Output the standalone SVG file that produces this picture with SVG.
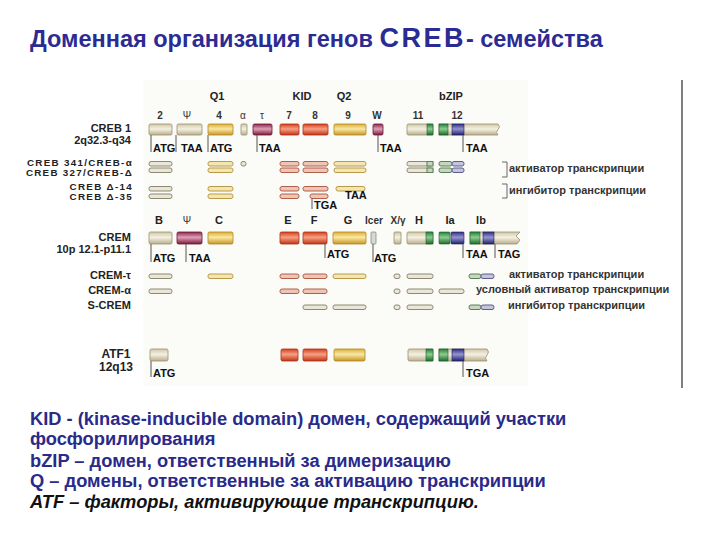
<svg xmlns="http://www.w3.org/2000/svg" width="720" height="540" viewBox="0 0 720 540">
<style>
text{font-family:"Liberation Sans",Arial,sans-serif;font-weight:bold}
.title{font-size:23.5px;fill:#2b2b93}
.big{font-size:27px;letter-spacing:2.5px}
.lab{font-size:11px;fill:#222;text-anchor:end}
.sm{font-size:9.8px;letter-spacing:1.3px}
.hdr{font-size:11px;fill:#222;text-anchor:middle}
.num{font-size:10px;fill:#333;text-anchor:middle}
.cod{font-size:11px;fill:#111}
.leg{font-size:11px;fill:#333}
.note{font-size:18.3px;fill:#2a2a8a}
.ital{font-style:italic;fill:#111}
.tick{stroke:#555;stroke-width:1;fill:none}
.br{stroke:#666;stroke-width:1;fill:none}
.eb{fill:url(#gB);stroke:#9a9070;stroke-width:.8}
.eg{fill:url(#gG);stroke:#b08820;stroke-width:.8}
.er{fill:url(#gR);stroke:#a83018;stroke-width:.8}
.em{fill:url(#gM);stroke:#6a1838;stroke-width:.8}
.en{fill:url(#gN);stroke:#1e5a28;stroke-width:.6}
.eu{fill:url(#gU);stroke:#1c1c60;stroke-width:.6}
.ei{fill:#d8d8d4;stroke:#8a8a84;stroke-width:.8}
.tb{fill:#ebe7d8;stroke:#8e8872;stroke-width:1}
.tg{fill:#f3e6b0;stroke:#b89a4a;stroke-width:1}
.tr{fill:#f0c4b4;stroke:#b0604a;stroke-width:1}
.tn{fill:#c4d8bc;stroke:#5a7c5a;stroke-width:1}
.tu{fill:#c4c4dc;stroke:#5c5c8c;stroke-width:1}
</style>
<defs>
<linearGradient id="gB" x1="0" y1="0" x2="0" y2="1"><stop offset="0" stop-color="#cfc7a6"/><stop offset=".45" stop-color="#f4f0e2"/><stop offset="1" stop-color="#b9af8c"/></linearGradient>
<linearGradient id="gG" x1="0" y1="0" x2="0" y2="1"><stop offset="0" stop-color="#dcae38"/><stop offset=".45" stop-color="#f8e8a4"/><stop offset="1" stop-color="#c99424"/></linearGradient>
<linearGradient id="gR" x1="0" y1="0" x2="0" y2="1"><stop offset="0" stop-color="#d4401c"/><stop offset=".45" stop-color="#f6a084"/><stop offset="1" stop-color="#c03414"/></linearGradient>
<linearGradient id="gM" x1="0" y1="0" x2="0" y2="1"><stop offset="0" stop-color="#8e2650"/><stop offset=".45" stop-color="#dea0b6"/><stop offset="1" stop-color="#7c1838"/></linearGradient>
<linearGradient id="gN" x1="0" y1="0" x2="0" y2="1"><stop offset="0" stop-color="#23803a"/><stop offset=".45" stop-color="#8ccc90"/><stop offset="1" stop-color="#1c6a2c"/></linearGradient>
<linearGradient id="gU" x1="0" y1="0" x2="0" y2="1"><stop offset="0" stop-color="#303080"/><stop offset=".45" stop-color="#9494d0"/><stop offset="1" stop-color="#222270"/></linearGradient>
</defs>
<rect width="720" height="540" fill="#ffffff"/>
<rect x="143" y="80" width="385" height="306" fill="#fbfbf8"/>
<line x1="682" y1="80" x2="682" y2="388" stroke="#555" stroke-width="1.5"/>

<g id="title">
<text class="title" x="30" y="47">Доменная организация генов <tspan class="big">CREB</tspan>- семейства</text>
</g>

<g id="headers">
<text class="hdr" x="217" y="100">Q1</text>
<text class="hdr" x="302" y="100">KID</text>
<text class="hdr" x="344" y="100">Q2</text>
<text class="hdr" x="451" y="100">bZIP</text>
<text class="num" x="160" y="119">2</text>
<text class="num" x="187" y="119" style="font-weight:normal">Ψ</text>
<text class="num" x="219" y="119">4</text>
<text class="num" x="243" y="119" style="font-weight:normal">α</text>
<text class="num" x="262" y="119" style="font-weight:normal">τ</text>
<text class="num" x="289" y="119">7</text>
<text class="num" x="315" y="119">8</text>
<text class="num" x="348" y="119">9</text>
<text class="num" x="377" y="119">W</text>
<text class="num" x="418" y="119">11</text>
<text class="num" x="457" y="119">12</text>
</g>

<g id="creb1">
<text class="lab" x="131" y="132">CREB 1</text>
<text class="lab" x="131" y="144">2q32.3-q34</text>
<rect class="eb" x="149" y="124" width="23" height="11" rx="1.5"/>
<rect class="eb" x="177" y="124" width="25" height="11" rx="1.5"/>
<rect class="eg" x="208" y="124" width="25" height="11" rx="1.5"/>
<rect class="eb" x="241" y="124" width="6" height="11" rx="1"/>
<rect class="em" x="253" y="124" width="19" height="11" rx="1.5"/>
<rect class="er" x="280" y="124" width="19" height="11" rx="1.5"/>
<rect class="er" x="303" y="124" width="25" height="11" rx="1.5"/>
<rect class="eg" x="334" y="124" width="32" height="11" rx="1.5"/>
<rect class="em" x="373" y="124" width="10" height="11" rx="1.5"/>
<rect class="eb" x="407" y="124" width="26" height="11" rx="1.5"/>
<rect class="en" x="427" y="124" width="6" height="11"/>
<path class="eb" d="M439,124 H498 q3,2.75 0,5.5 q-3,2.75 0,5.5 H439 Z"/>
<rect class="en" x="439" y="124" width="9" height="11"/>
<rect class="eu" x="452" y="124" width="12" height="11"/>
</g>

<g id="creb-variants">
<text class="lab sm" x="133" y="166">CREB 341/CREB-α</text>
<text class="lab sm" x="133" y="176">CREB 327/CREB-Δ</text>
<text class="lab sm" x="133" y="190">CREB Δ-14</text>
<text class="lab sm" x="133" y="200">CREB Δ-35</text>
<!-- 341 row -->
<rect class="tb" x="149" y="161.5" width="23" height="4.5" rx="2"/>
<rect class="tg" x="208" y="161.5" width="25" height="4.5" rx="2"/>
<rect class="tb" x="241" y="161.5" width="5" height="4.5" rx="2"/>
<rect class="tr" x="280" y="161.5" width="19" height="4.5" rx="2"/>
<rect class="tr" x="303" y="161.5" width="25" height="4.5" rx="2"/>
<rect class="tg" x="334" y="161.5" width="32" height="4.5" rx="2"/>
<rect class="tb" x="407" y="161.5" width="26" height="4.5" rx="2"/>
<rect class="tn" x="427" y="161.5" width="6" height="4.5"/>
<rect class="tn" x="439" y="161.5" width="13" height="4.5" rx="2"/>
<rect class="tu" x="452" y="161.5" width="12" height="4.5" rx="2"/>
<!-- 327 row -->
<rect class="tb" x="149" y="168" width="23" height="4.5" rx="2"/>
<rect class="tg" x="208" y="168" width="25" height="4.5" rx="2"/>
<rect class="tr" x="280" y="168" width="19" height="4.5" rx="2"/>
<rect class="tr" x="303" y="168" width="25" height="4.5" rx="2"/>
<rect class="tg" x="334" y="168" width="32" height="4.5" rx="2"/>
<rect class="tb" x="407" y="168" width="26" height="4.5" rx="2"/>
<rect class="tn" x="427" y="168" width="6" height="4.5"/>
<rect class="tn" x="439" y="168" width="13" height="4.5" rx="2"/>
<rect class="tu" x="452" y="168" width="12" height="4.5" rx="2"/>
<!-- delta-14 row -->
<rect class="tb" x="149" y="186.5" width="23" height="4.5" rx="2"/>
<rect class="tg" x="208" y="186.5" width="25" height="4.5" rx="2"/>
<rect class="tr" x="280" y="186.5" width="19" height="4.5" rx="2"/>
<rect class="tr" x="303" y="186.5" width="25" height="4.5" rx="2"/>
<rect class="tg" x="336" y="186.5" width="29" height="4.5" rx="2"/>
<!-- delta-35 row -->
<rect class="tb" x="149" y="194" width="23" height="4.5" rx="2"/>
<rect class="tg" x="208" y="194" width="25" height="4.5" rx="2"/>
<rect class="tr" x="280" y="194" width="19" height="4.5" rx="2"/>
<rect class="tr" x="310" y="194" width="18" height="4.5" rx="2"/>
<path class="br" d="M502,162 H507 V177 H502"/>
<path class="br" d="M502,184 H507 V198 H502"/>
<text class="leg" x="509" y="172">активатор транскрипции</text>
<text class="leg" x="509" y="194">ингибитор транскрипции</text>
</g>

<g id="crem">
<text class="hdr" x="159" y="224">B</text>
<text class="num" x="187" y="224" style="font-weight:normal">Ψ</text>
<text class="hdr" x="219" y="224">C</text>
<text class="hdr" x="288" y="224">E</text>
<text class="hdr" x="314" y="224">F</text>
<text class="hdr" x="348" y="224">G</text>
<text class="num" x="374" y="224">Icer</text>
<text class="num" x="398" y="224">X/γ</text>
<text class="hdr" x="419" y="224">H</text>
<text class="hdr" x="450" y="224">Ia</text>
<text class="hdr" x="481" y="224">Ib</text>
<text class="lab" x="131" y="241">CREM</text>
<text class="lab" x="131" y="253">10p 12.1-p11.1</text>
<rect class="eb" x="149" y="232" width="23" height="12" rx="1.5"/>
<rect class="em" x="177" y="232" width="25" height="12" rx="1.5"/>
<rect class="eg" x="208" y="232" width="25" height="12" rx="1.5"/>
<rect class="er" x="280" y="232" width="19" height="12" rx="1.5"/>
<rect class="er" x="303" y="232" width="24" height="12" rx="1.5"/>
<rect class="eg" x="333" y="232" width="33" height="12" rx="1.5"/>
<rect class="ei" x="371" y="232" width="5" height="12" rx="1"/>
<rect class="eb" x="394" y="232" width="7" height="12" rx="1"/>
<rect class="eb" x="407" y="232" width="26" height="12" rx="1.5"/>
<rect class="en" x="426" y="232" width="7" height="12"/>
<rect class="en" x="439" y="232" width="11" height="12" rx="1"/>
<rect class="eu" x="451" y="232" width="13" height="12" rx="1"/>
<path class="eb" d="M470,232 H520 l-4,4 l4,4 l-3,4 H470 Z"/>
<rect class="en" x="470" y="232" width="10" height="12"/>
<rect class="eu" x="483" y="232" width="11" height="12"/>
</g>

<g id="crem-variants">
<text class="lab" x="131" y="279">CREM-τ</text>
<text class="lab" x="131" y="294">CREM-α</text>
<text class="lab" x="131" y="309">S-CREM</text>
<!-- tau -->
<rect class="tb" x="149" y="274" width="23" height="4.5" rx="2"/>
<rect class="tg" x="208" y="274" width="25" height="4.5" rx="2"/>
<rect class="tr" x="280" y="274" width="19" height="4.5" rx="2"/>
<rect class="tr" x="303" y="274" width="24" height="4.5" rx="2"/>
<rect class="tg" x="333" y="274" width="33" height="4.5" rx="2"/>
<rect class="tb" x="394" y="274" width="6" height="4.5" rx="2"/>
<rect class="tb" x="407" y="274" width="26" height="4.5" rx="2"/>
<rect class="tn" x="469" y="274" width="12" height="4.5" rx="2"/>
<rect class="tu" x="481" y="274" width="13" height="4.5" rx="2"/>
<!-- alpha -->
<rect class="tb" x="149" y="289" width="23" height="4.5" rx="2"/>
<rect class="tr" x="280" y="289" width="19" height="4.5" rx="2"/>
<rect class="tr" x="303" y="289" width="24" height="4.5" rx="2"/>
<rect class="tb" x="394" y="289" width="6" height="4.5" rx="2"/>
<rect class="tb" x="407" y="289" width="26" height="4.5" rx="2"/>
<rect class="tb" x="439" y="289" width="25" height="4.5" rx="2"/>
<!-- S-CREM -->
<rect class="tb" x="303" y="305" width="24" height="4.5" rx="2"/>
<rect class="tb" x="333" y="305" width="33" height="4.5" rx="2"/>
<rect class="tb" x="394" y="305" width="6" height="4.5" rx="2"/>
<rect class="tb" x="407" y="305" width="26" height="4.5" rx="2"/>
<rect class="tn" x="469" y="305" width="12" height="4.5" rx="2"/>
<rect class="tu" x="481" y="305" width="13" height="4.5" rx="2"/>
<text class="leg" x="509" y="278">активатор транскрипции</text>
<text class="leg" x="476" y="293">условный активатор транскрипции</text>
<text class="leg" x="508" y="309">ингибитор транскрипции</text>
</g>

<g id="atf1">
<text class="hdr" x="116" y="358" style="font-size:12px">ATF1</text>
<text class="hdr" x="116" y="371" style="font-size:12px">12q13</text>
<rect class="eb" x="150" y="349" width="18" height="12" rx="1.5"/>
<rect class="er" x="281" y="349" width="17" height="12" rx="1.5"/>
<rect class="er" x="303" y="349" width="24" height="12" rx="1.5"/>
<rect class="eg" x="334" y="349" width="31" height="12" rx="1.5"/>
<rect class="eb" x="408" y="349" width="25" height="12" rx="1.5"/>
<rect class="en" x="426" y="349" width="7" height="12"/>
<path class="eb" d="M439,349 H487 q3,3 0,6 q-3,3 0,6 H439 Z"/>
<rect class="en" x="439" y="349" width="9" height="12"/>
<rect class="eu" x="452" y="349" width="12" height="12"/>
</g>

<g id="connectors">
<path class="tick" d="M151,135 V152 M176,135 V152 M208,135 V152 M257,135 V152 M378,135 V152 M463,135 V152"/>
<path class="tick" d="M312,198.5 V209"/>
<path class="tick" d="M151,244 V262 M186,244 V262 M325,244 V258 M373,244 V262 M463,244 V258 M495,244 V258"/>
<path class="tick" d="M151,361 V377 M463,361 V377"/>
</g>

<g id="codon-labels">
<text class="cod" x="153" y="152">ATG</text>
<text class="cod" x="181" y="152">TAA</text>
<text class="cod" x="210" y="152">ATG</text>
<text class="cod" x="259" y="152">TAA</text>
<text class="cod" x="380" y="152">TAA</text>
<text class="cod" x="466" y="152">TAA</text>
<text class="cod" x="314" y="209">TGA</text>
<text class="cod" x="345" y="199">TAA</text>
<text class="cod" x="153" y="262">ATG</text>
<text class="cod" x="189" y="262">TAA</text>
<text class="cod" x="327" y="258">ATG</text>
<text class="cod" x="374" y="262">ATG</text>
<text class="cod" x="466" y="258">TAA</text>
<text class="cod" x="498" y="258">TAG</text>
<text class="cod" x="153" y="377">ATG</text>
<text class="cod" x="466" y="377">TGA</text>
</g>

<g id="notes">
<text class="note" x="30" y="425">KID - (kinase-inducible domain) домен, содержащий участки</text>
<text class="note" x="30" y="445">фосфорилирования</text>
<text class="note" x="30" y="467">bZIP – домен, ответственный за димеризацию</text>
<text class="note" x="30" y="487">Q – домены, ответственные за активацию транскрипции</text>
<text class="note ital" x="30" y="508">ATF – факторы, активирующие транскрипцию.</text>
</g>
</svg>
